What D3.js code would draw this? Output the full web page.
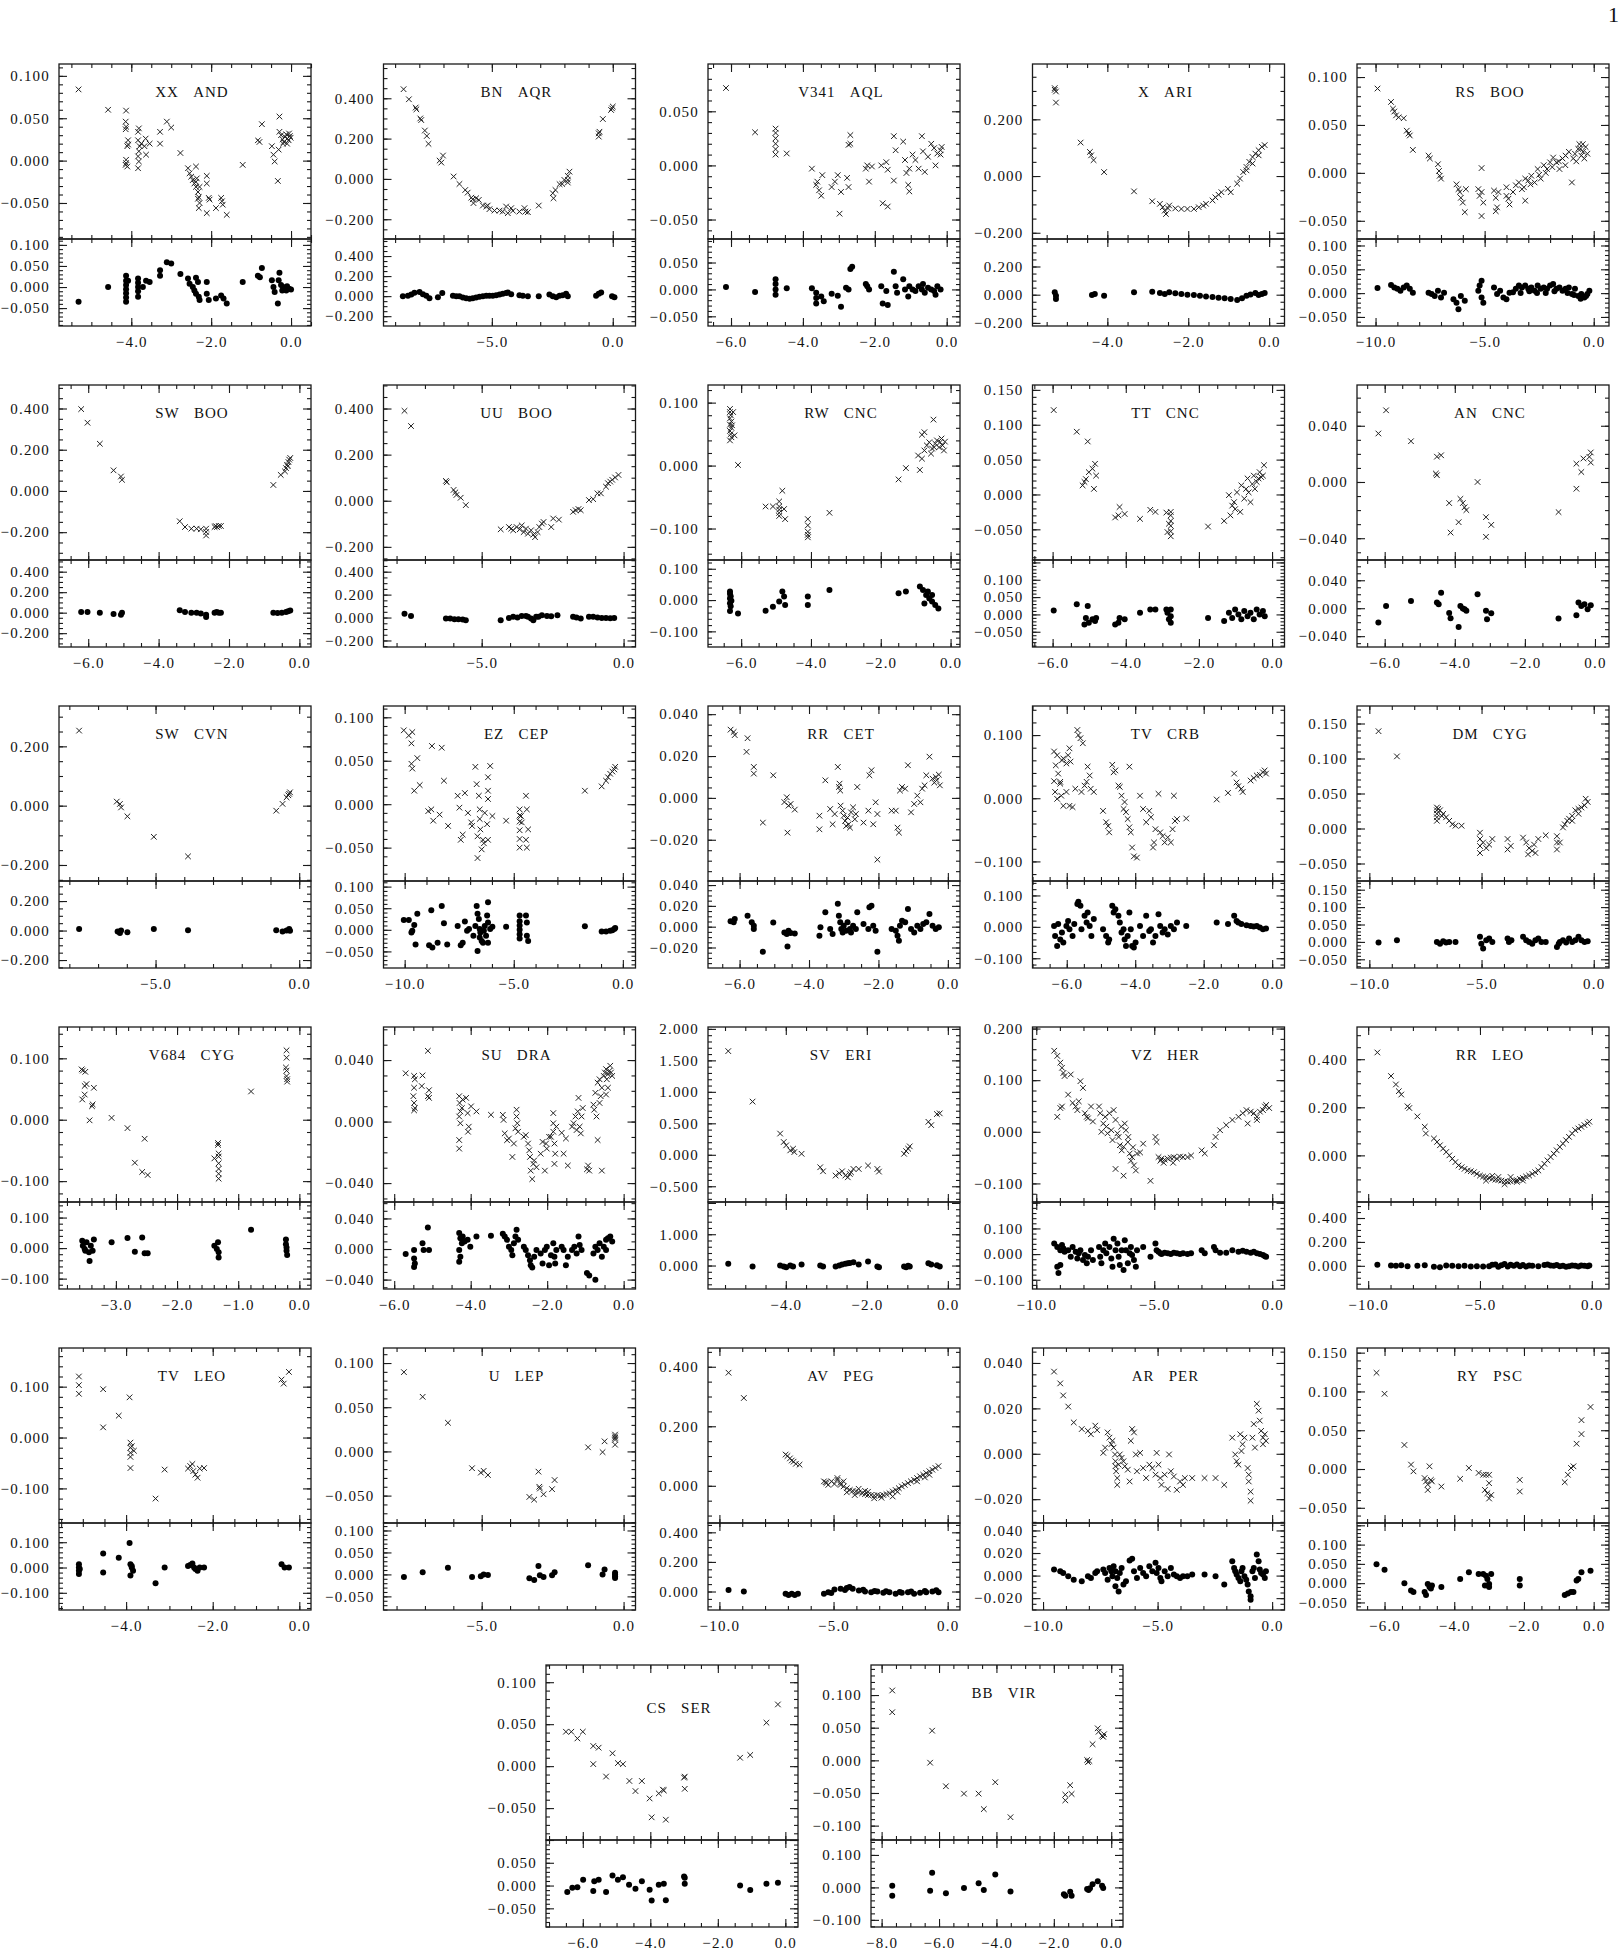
<!DOCTYPE html>
<html>
<head>
<meta charset="utf-8">
<script src="https://cdn.jsdelivr.net/npm/d3@7"></script>
<style>
  body { margin: 0; background: #fff; }
  text { font-family: "Liberation Serif", "Times New Roman", serif; }
</style>
</head>
<body>
<svg id="chart" width="1619" height="1950"></svg>
<script>
// ---- data: [phase-like x, magnitude y] per star; Fit = crosses (top), Res = residuals (bottom)
const xxAndFit = [[-5.32,0.084],[-4.58,0.060],[-4.13,0.059],[-4.14,0.046],[-4.13,0.040],[-4.14,0.037],[-4.08,0.024],[-4.08,0.019],[-4.10,0.017],[-4.13,0.001],[-4.13,-0.003],[-4.14,-0.005],[-4.10,-0.007],
  [-3.83,0.034],[-3.81,0.038],[-3.83,0.024],[-3.79,0.017],[-3.81,0.011],[-3.83,0.005],[-3.81,-0.001],[-3.83,-0.009],[-3.75,0.020],[-3.67,0.017],[-3.64,0.026],[-3.63,0.007],[-3.54,0.020],
  [-3.28,0.034],[-3.28,0.020],[-3.11,0.046],[-3.00,0.039],[-2.77,0.009],
  [-2.58,-0.009],[-2.54,-0.015],[-2.50,-0.019],[-2.46,-0.023],[-2.42,-0.027],[-2.38,-0.031],[-2.33,-0.037],[-2.31,-0.043],[-2.29,-0.050],[-2.31,-0.056],[-2.38,-0.007],[-2.36,-0.021],[-2.38,-0.025],[-2.29,-0.031],[-2.33,-0.045],
  [-2.11,-0.018],[-2.11,-0.027],[-2.11,-0.062],[-2.06,-0.044],[-2.04,-0.046],[-1.88,-0.056],[-1.75,-0.044],[-1.73,-0.048],[-1.71,-0.052],[-1.61,-0.064],[-1.21,-0.005],
  [-0.83,0.024],[-0.79,0.022],[-0.73,0.043],[-0.48,0.017],[-0.44,0.007],[-0.41,-0.001],[-0.33,-0.024],[-0.29,0.052],[-0.31,0.013],[-0.29,0.034],
  [-0.25,0.030],[-0.21,0.025],[-0.18,0.022],[-0.15,0.028],[-0.12,0.031],[-0.09,0.026],[-0.06,0.024],[-0.03,0.029],[-0.01,0.027],[-0.20,0.020],[-0.10,0.020],[-0.05,0.032]];
const xxAndRes = [[-5.32,-0.035],[-4.58,0.0],[-4.13,0.027],[-4.13,0.015],[-4.13,0.005],[-4.13,-0.005],[-4.13,-0.015],[-4.13,-0.025],[-4.13,-0.035],[-4.08,0.015],[-3.83,0.020],[-3.83,0.010],[-3.83,0.0],[-3.83,-0.010],[-3.83,-0.023],[-3.71,0.0],[-3.63,0.015],[-3.54,0.012],[-3.28,0.040],[-3.28,0.027],[-3.11,0.059],[-3.0,0.056],[-2.77,0.031],[-2.58,0.020],[-2.54,0.008],[-2.46,0.0],[-2.42,-0.008],[-2.38,-0.016],[-2.31,-0.023],[-2.29,-0.031],[-2.38,0.022],[-2.33,0.012],[-2.11,0.012],[-2.11,-0.016],[-2.06,-0.031],[-1.88,-0.027],[-1.75,-0.020],[-1.69,-0.027],[-1.61,-0.039],[-1.21,0.012],[-0.83,0.027],[-0.78,0.023],[-0.73,0.045],[-0.48,0.016],[-0.44,0.0],[-0.41,-0.012],[-0.33,-0.039],[-0.29,0.034],[-0.31,0.016],[-0.25,0.005],[-0.2,0.0],[-0.15,-0.005],[-0.1,0.002],[-0.05,-0.004],[0.0,-0.006],[-0.22,-0.008],[-0.12,-0.008]];

const bnAqrFit = [[-8.65,0.445],[-8.43,0.395],[-8.15,0.354],[-8.12,0.345],[-7.96,0.300],[-7.92,0.292],[-7.77,0.240],[-7.69,0.213],[-7.62,0.174],[-7.16,0.091],[-7.09,0.081],[-7.02,0.116],[-6.58,0.012],[-6.34,-0.025],[-6.10,-0.055],[-6.00,-0.068],[-5.85,-0.093],[-5.79,-0.101],[-5.76,-0.120],[-5.65,-0.096],[-5.54,-0.104],[-5.37,-0.132],[-5.23,-0.137],[-5.17,-0.132],[-5.10,-0.150],[-4.89,-0.157],[-4.68,-0.157],[-4.55,-0.162],[-4.41,-0.137],[-4.34,-0.170],[-4.20,-0.145],[-4.13,-0.158],[-3.86,-0.162],[-3.65,-0.145],[-3.61,-0.162],[-3.51,-0.165],[-3.06,-0.132],[-2.48,-0.071],[-2.45,-0.096],[-2.37,-0.055],[-2.20,-0.026],[-2.09,-0.025],[-2.00,-0.005],[-1.86,-0.005],[-1.86,0.015],[-1.79,0.036],[-1.86,-0.018],[-0.58,0.226],[-0.58,0.210],[-0.55,0.234],[-0.41,0.297],[-0.07,0.342],[0.0,0.359],[-0.03,0.350]];
const bnAqrRes = [[-8.68,0.0],[-8.47,0.003],[-8.33,0.017],[-8.20,0.033],[-7.99,0.040],[-7.85,0.020],[-7.71,0.003],[-7.58,-0.020],[-7.23,-0.010],[-7.05,0.030],[-6.61,0.003],[-6.47,0.0],[-6.34,0.0],[-6.2,-0.013],[-6.06,-0.02],[-5.92,-0.026],[-5.79,-0.02],[-5.65,-0.013],[-5.51,-0.007],[-5.37,0.0],[-5.23,0.003],[-5.10,0.003],[-4.96,0.003],[-4.82,0.01],[-4.68,0.017],[-4.55,0.023],[-4.41,0.03],[-4.34,0.036],[-4.2,0.02],[-3.86,0.01],[-3.72,0.003],[-3.51,0.0],[-3.06,0.0],[-2.62,0.017],[-2.48,0.0],[-2.34,-0.01],[-2.2,0.003],[-2.07,0.01],[-1.93,0.023],[-1.86,0.0],[-0.69,0.003],[-0.58,0.023],[-0.48,0.036],[-0.03,0.0],[0.07,-0.01]];

const v341AqlFit = [[-6.14,0.0715],[-5.33,0.0306],[-4.76,0.034],[-4.76,0.030],[-4.76,0.025],[-4.76,0.020],[-4.76,0.015],[-4.76,0.010],[-4.45,0.011],[-3.75,-0.003],[-3.63,-0.018],[-3.55,-0.023],[-3.49,-0.028],[-3.6,-0.015],[-3.46,-0.009],[-3.2,-0.020],[-3.11,-0.015],[-3.03,-0.009],[-2.94,-0.0245],[-2.98,-0.0446],[-2.77,-0.0115],[-2.73,-0.020],[-2.68,0.028],[-2.68,0.020],[-2.73,0.019],[-2.25,-0.003],[-2.16,-0.015],[-2.21,0.0],[-2.08,-0.001],[-1.82,0.0],[-1.78,-0.035],[-1.64,-0.038],[-1.68,0.003],[-1.64,-0.004],[-1.47,0.027],[-1.47,-0.014],[-1.42,0.014],[-1.21,0.022],[-1.16,0.005],[-1.12,-0.007],[-1.07,-0.018],[-1.04,-0.024],[-1.04,-0.003],[-0.95,0.010],[-0.87,0.005],[-0.78,-0.003],[-0.69,0.027],[-0.66,0.013],[-0.61,-0.006],[-0.52,0.008],[-0.43,0.020],[-0.35,0.016],[-0.31,0.0],[-0.26,0.011],[-0.17,0.014],[-0.17,0.010],[-0.14,0.017]];
const v341AqlRes = [[-6.14,0.0045],[-5.33,-0.005],[-4.76,0.019],[-4.76,0.010],[-4.76,0.0],[-4.76,-0.010],[-4.45,0.002],[-3.75,0.002],[-3.63,-0.006],[-3.63,-0.016],[-3.63,-0.026],[-3.49,-0.013],[-3.42,-0.022],[-3.2,-0.008],[-3.03,-0.012],[-2.94,-0.032],[-2.80,0.003],[-2.73,0.0],[-2.68,0.038],[-2.63,0.042],[-2.25,0.010],[-2.16,0.0],[-2.21,0.006],[-1.82,0.006],[-1.78,-0.026],[-1.64,-0.029],[-1.68,-0.003],[-1.47,0.033],[-1.42,0.006],[-1.38,-0.006],[-1.21,0.019],[-1.16,0.0],[-1.07,-0.013],[-1.04,0.006],[-0.95,0.0],[-0.87,-0.003],[-0.78,0.006],[-0.69,0.0],[-0.66,0.010],[-0.61,-0.006],[-0.52,0.003],[-0.43,0.0],[-0.35,-0.003],[-0.31,-0.010],[-0.26,0.006],[-0.17,0.0]];

const xAriFit = [[-5.30,0.304],[-5.27,0.298],[-5.30,0.310],[-5.27,0.259],[-4.66,0.118],[-4.43,0.085],[-4.40,0.073],[-4.34,0.056],[-4.08,0.014],[-3.34,-0.054],[-2.89,-0.089],[-2.70,-0.098],[-2.63,-0.110],[-2.58,-0.122],[-2.55,-0.134],[-2.50,-0.114],[-2.47,-0.104],[-2.32,-0.114],[-2.17,-0.116],[-2.02,-0.116],[-1.86,-0.116],[-1.74,-0.110],[-1.63,-0.104],[-1.56,-0.098],[-1.40,-0.086],[-1.33,-0.075],[-1.25,-0.066],[-1.18,-0.057],[-1.02,-0.045],[-0.95,-0.057],[-0.79,-0.027],[-0.72,-0.009],[-0.64,0.014],[-0.56,0.032],[-0.49,0.050],[-0.41,0.067],[-0.34,0.079],[-0.26,0.091],[-0.18,0.103],[-0.11,0.109],[-0.26,0.073],[-0.41,0.044],[-0.56,0.020]];
const xAriRes = [[-5.30,0.017],[-5.27,-0.007],[-5.27,-0.031],[-4.38,-0.002],[-4.31,0.005],[-4.08,-0.007],[-3.34,0.017],[-2.89,0.021],[-2.70,0.012],[-2.58,0.005],[-2.47,0.017],[-2.32,0.010],[-2.17,0.005],[-2.02,0.0],[-1.86,-0.002],[-1.71,-0.007],[-1.56,-0.012],[-1.40,-0.017],[-1.25,-0.021],[-1.10,-0.026],[-0.95,-0.031],[-0.79,-0.038],[-0.67,-0.026],[-0.56,-0.007],[-0.46,0.002],[-0.34,0.012],[-0.26,-0.002],[-0.18,0.005],[-0.11,0.012]];

const rsBooFit = [[-9.91,0.088],[-9.29,0.074],[-9.2,0.067],[-9.14,0.064],[-9.06,0.060],[-8.94,0.058],[-8.71,0.057],[-8.57,0.044],[-8.49,0.041],[-8.43,0.039],[-8.29,0.024],[-7.57,0.018],[-7.51,0.015],[-7.14,0.009],[-7.09,0.002],[-7.06,-0.003],[-7.0,-0.006],[-6.29,-0.012],[-6.2,-0.017],[-6.14,-0.020],[-6.09,-0.026],[-6.0,-0.031],[-5.91,-0.041],[-5.86,-0.017],[-5.29,-0.017],[-5.23,-0.024],[-5.14,0.005],[-5.14,-0.045],[-5.06,-0.031],[-5.14,-0.020],[-4.57,-0.0185],[-4.49,-0.026],[-4.43,-0.036],[-4.49,-0.040],[-4.37,-0.020],[-4.0,-0.015],[-3.91,-0.027],[-3.86,-0.033],[-4.0,-0.024],[-3.57,-0.013],[-3.43,-0.010],[-3.29,-0.017],[-3.14,-0.006],[-3.14,-0.029],[-3.0,-0.008],[-2.86,-0.003],[-2.71,-0.010],[-2.57,0.004],[-2.43,-0.006],[-2.29,0.008],[-2.14,0.004],[-2.0,0.011],[-1.86,0.016],[-1.71,0.011],[-1.57,0.004],[-1.43,0.015],[-1.29,0.018],[-1.14,0.022],[-1.0,-0.010],[-0.94,0.015],[-0.86,0.020],[-0.71,0.025],[-0.66,0.030],[-0.57,0.018],[-0.49,0.022],[-0.43,0.015],[-0.37,0.027],[-0.29,0.020],
  [-3.7,-0.02],[-3.2,-0.015],[-2.9,-0.012],[-2.5,-0.002],[-2.2,0.0],[-1.9,0.006],[-1.6,0.012],[-1.3,0.008],[-0.8,0.012],[-0.6,0.025],[-0.5,0.03]];
const rsBooRes = [[-9.91,0.011],[-9.29,0.017],[-9.14,0.012],[-9.0,0.009],[-8.86,0.005],[-8.71,0.012],[-8.57,0.016],[-8.43,0.009],[-8.29,0.001],[-7.57,0.001],[-7.43,-0.002],[-7.29,-0.006],[-7.14,0.005],[-7.0,-0.009],[-6.86,0.001],[-6.43,-0.013],[-6.29,-0.020],[-6.2,-0.034],[-6.09,-0.006],[-5.91,-0.016],[-5.29,0.005],[-5.23,0.016],[-5.14,0.026],[-5.14,-0.009],[-5.06,-0.020],[-4.57,0.012],[-4.43,-0.002],[-4.29,0.005],[-4.14,-0.009],[-4.0,-0.013],[-3.86,0.001],[-3.57,0.009],[-3.43,0.016],[-3.29,0.012],[-3.14,0.016],[-3.0,0.009],[-2.86,0.012],[-2.71,0.005],[-2.57,0.016],[-2.43,0.009],[-2.29,0.012],[-2.14,0.009],[-2.0,0.016],[-1.86,0.019],[-1.71,0.009],[-1.57,0.012],[-1.43,0.005],[-1.29,0.009],[-1.14,0.012],[-1.0,-0.002],[-0.86,0.009],[-0.71,-0.006],[-0.57,-0.002],[-0.43,-0.009],[-0.29,-0.002],[-0.2,0.005],
  [-3.7,0.002],[-3.35,0.0],[-2.95,0.004],[-2.6,0.0],[-2.2,0.0],[-1.8,0.004],[-1.2,0.0],[-0.9,-0.004],[-0.6,-0.012],[-0.35,-0.006]];

const swBooFit = [[-6.20,0.397],[-6.02,0.331],[-5.67,0.229],[-5.28,0.100],[-5.07,0.070],[-5.04,0.054],[-3.40,-0.147],[-3.25,-0.175],[-3.07,-0.183],[-2.92,-0.183],[-2.80,-0.186],[-2.65,-0.183],[-2.65,-0.199],[-2.65,-0.216],[-2.41,-0.175],[-2.38,-0.170],[-2.34,-0.175],[-2.29,-0.170],[-2.23,-0.170],[-0.74,0.029],[-0.53,0.078],[-0.38,0.111],[-0.35,0.127],[-0.31,0.140],[-0.29,0.152],[-0.26,0.160],[-0.33,0.12],[-0.41,0.095]];
const swBooRes = [[-6.2,0.007],[-6.02,0.007],[-5.67,0.0],[-5.28,-0.013],[-5.04,0.0],[-5.07,-0.020],[-3.40,0.023],[-3.25,0.007],[-3.07,0.0],[-2.92,0.0],[-2.80,-0.007],[-2.65,-0.020],[-2.65,-0.043],[-2.41,0.0],[-2.35,0.007],[-2.29,0.0],[-2.23,0.0],[-0.74,0.0],[-0.62,-0.003],[-0.5,0.0],[-0.38,0.007],[-0.32,0.013],[-0.26,0.020]];

const uuBooFit = [[-7.72,0.390],[-7.49,0.324],[-6.26,0.086],[-6.23,0.080],[-5.99,0.047],[-5.93,0.036],[-5.89,0.025],[-5.74,0.013],[-5.56,-0.019],[-4.33,-0.124],[-4.04,-0.114],[-3.96,-0.121],[-3.89,-0.128],[-3.77,-0.114],[-3.66,-0.124],[-3.59,-0.107],[-3.52,-0.136],[-3.44,-0.121],[-3.37,-0.143],[-3.26,-0.128],[-3.18,-0.147],[-3.12,-0.158],[-3.03,-0.136],[-2.97,-0.114],[-2.88,-0.099],[-2.82,-0.092],[-2.55,-0.114],[-2.48,-0.077],[-2.28,-0.082],[-1.78,-0.048],[-1.69,-0.041],[-1.59,-0.036],[-1.51,-0.041],[-1.22,0.003],[-1.07,0.007],[-0.92,0.032],[-0.80,0.032],[-0.62,0.061],[-0.55,0.076],[-0.47,0.083],[-0.40,0.091],[-0.30,0.101],[-0.18,0.112]];
const uuBooRes = [[-7.72,0.032],[-7.49,0.014],[-6.26,-0.009],[-6.11,-0.009],[-5.96,-0.014],[-5.82,-0.014],[-5.67,-0.017],[-5.56,-0.023],[-4.33,-0.023],[-4.04,-0.003],[-3.89,0.006],[-3.74,0.0],[-3.59,0.014],[-3.44,0.014],[-3.37,0.006],[-3.26,-0.009],[-3.18,-0.023],[-3.08,0.006],[-3.0,0.006],[-2.88,0.020],[-2.70,0.014],[-2.55,0.011],[-2.33,0.020],[-1.78,0.006],[-1.66,0.0],[-1.51,-0.009],[-1.22,0.006],[-1.07,0.006],[-0.92,0.0],[-0.77,-0.003],[-0.62,-0.003],[-0.47,-0.006],[-0.33,-0.003]];

const rwCncFit = [[-6.32,0.090],[-6.32,0.085],[-6.30,0.080],[-6.32,0.075],[-6.28,0.070],[-6.32,0.065],[-6.28,0.060],[-6.32,0.055],[-6.30,0.050],[-6.28,0.045],[-6.32,0.040],[-6.23,0.085],[-6.26,0.064],[-6.19,0.048],[-6.09,0.001],
  [-5.30,-0.065],[-5.09,-0.065],[-4.91,-0.057],[-4.91,-0.065],[-4.91,-0.070],[-4.91,-0.075],[-4.91,-0.080],[-4.82,-0.040],[-4.77,-0.069],[-4.74,-0.085],
  [-4.09,-0.085],[-4.09,-0.095],[-4.09,-0.105],[-4.09,-0.110],[-4.09,-0.114],
  [-3.47,-0.075],[-1.49,-0.022],[-1.28,-0.004],[-0.88,-0.007],[-0.82,0.049],[-0.75,0.053],[-0.49,0.073],
  [-0.93,0.016],[-0.82,0.011],[-0.75,0.024],[-0.68,0.032],[-0.61,0.037],[-0.56,0.019],[-0.53,0.027],[-0.47,0.029],[-0.44,0.035],[-0.39,0.040],[-0.33,0.029],[-0.30,0.037],[-0.26,0.043],[-0.23,0.032],[-0.19,0.024],[-0.16,0.038]];
const rwCncRes = [[-6.32,0.027],[-6.32,0.020],[-6.30,0.012],[-6.32,0.005],[-6.28,-0.002],[-6.32,-0.010],[-6.30,-0.020],[-6.32,-0.035],[-6.09,-0.043],[-5.30,-0.034],[-5.09,-0.021],[-4.91,-0.005],[-4.82,0.027],[-4.77,0.011],[-4.74,-0.016],[-4.09,0.011],[-4.09,-0.016],[-3.47,0.032],[-1.49,0.022],[-1.28,0.027],[-0.88,0.043],[-0.79,0.032],[-0.70,0.016],[-0.61,0.005],[-0.53,-0.005],[-0.44,-0.016],[-0.35,-0.027],[-0.53,0.016],[-0.75,-0.011],[-0.65,0.027]];

const ttCncFit = [[-5.97,0.121],[-5.34,0.090],[-5.04,0.076],[-5.13,0.018],[-5.09,0.022],[-5.01,0.032],[-5.18,0.013],[-4.91,0.037],[-4.84,0.044],[-4.87,0.008],[-4.81,0.027],[-4.29,-0.033],[-4.20,-0.030],[-4.17,-0.018],[-4.03,-0.028],[-3.61,-0.035],[-3.33,-0.022],[-3.19,-0.025],[-2.89,-0.026],[-2.86,-0.054],[-2.77,-0.025],[-2.77,-0.030],[-2.77,-0.038],[-2.77,-0.045],[-2.77,-0.053],[-2.77,-0.060],[-2.82,-0.042],[-1.75,-0.046],[-1.31,-0.038],[-1.18,-0.001],[-1.14,-0.030],[-1.09,-0.016],[-1.04,-0.011],[-1.01,-0.021],[-0.96,0.003],[-0.87,-0.025],[-0.84,0.013],[-0.76,-0.006],[-0.71,0.008],[-0.67,0.023],[-0.64,0.003],[-0.59,-0.011],[-0.54,0.015],[-0.50,0.027],[-0.47,0.008],[-0.42,0.018],[-0.37,0.023],[-0.34,0.032],[-0.30,0.025],[-0.25,0.027],[-0.22,0.042]];
const ttCncRes = [[-5.97,0.011],[-5.34,0.029],[-5.04,0.024],[-5.13,-0.029],[-5.09,-0.010],[-5.01,-0.024],[-4.91,-0.014],[-4.84,-0.019],[-4.81,-0.010],[-4.29,-0.029],[-4.20,-0.024],[-4.17,-0.010],[-4.03,-0.014],[-3.61,0.005],[-3.33,0.014],[-3.19,0.014],[-2.89,0.014],[-2.86,0.005],[-2.77,0.014],[-2.77,-0.005],[-2.77,-0.024],[-2.82,-0.014],[-1.75,-0.010],[-1.31,-0.019],[-1.18,0.005],[-1.09,-0.010],[-1.01,0.014],[-0.92,0.0],[-0.84,-0.014],[-0.76,0.010],[-0.67,-0.005],[-0.59,0.005],[-0.50,-0.014],[-0.42,0.014],[-0.34,0.0],[-0.25,0.010],[-0.20,-0.005]];

const anCncFit = [[-6.18,0.0345],[-5.96,0.051],[-5.25,0.029],[-4.51,0.018],[-4.39,0.019],[-4.51,0.0048],[-4.54,0.006],[-4.16,-0.015],[-3.89,-0.0286],[-4.12,-0.036],[-3.84,-0.012],[-3.72,-0.018],[-3.67,-0.020],[-3.77,-0.015],[-3.35,0.0],[-3.11,-0.025],[-2.96,-0.0305],[-3.11,-0.039],[-1.04,-0.0214],[-0.53,-0.0048],[-0.53,0.013],[-0.39,0.0071],[-0.33,0.0167],[-0.12,0.021],[-0.12,0.0138],[-0.16,0.0179]];
const anCncRes = [[-6.18,-0.0205],[-5.96,0.0033],[-5.25,0.0105],[-4.51,0.0081],[-4.39,0.022],[-4.46,0.0057],[-4.16,-0.007],[-3.89,-0.027],[-4.12,-0.0143],[-3.84,0.0033],[-3.72,-0.0014],[-3.67,-0.0038],[-3.77,-0.0005],[-3.35,0.020],[-3.11,-0.0038],[-3.08,-0.0157],[-2.96,-0.0071],[-1.04,-0.0148],[-0.53,-0.010],[-0.47,0.0081],[-0.39,0.0033],[-0.30,0.0057],[-0.21,-0.0014],[-0.12,0.0043]];

const swCvnFit = [[-7.66,0.253],[-6.35,0.0137],[-6.24,0.0057],[-6.20,-0.006],[-5.98,-0.036],[-5.06,-0.105],[-3.87,-0.171],[-0.80,-0.017],[-0.58,0.006],[-0.44,0.028],[-0.35,0.040],[-0.32,0.045],[-0.38,0.035]];
const swCvnRes = [[-7.66,0.011],[-6.32,-0.007],[-6.24,-0.016],[-6.20,0.0],[-5.98,-0.011],[-5.06,0.011],[-3.87,0.002],[-0.80,0.002],[-0.58,-0.007],[-0.44,0.0],[-0.35,0.011],[-0.32,-0.002]];

const ezCepFit = [[-10.04,0.085],[-9.81,0.079],[-9.65,0.083],[-9.69,0.070],[-9.69,0.0465],[-9.65,0.041],[-9.42,0.053],[-9.56,0.0155],[-9.31,0.022],[-8.92,-0.008],[-8.78,-0.006],[-8.69,-0.019],[-8.40,-0.012],[-8.75,0.067],[-8.30,0.065],[-8.20,0.027],[-8.01,-0.025],[-7.57,0.0097],[-7.43,-0.041],[-7.24,0.0128],[-7.34,-0.035],[-7.49,-0.004],[-7.10,-0.010],[-6.95,-0.021],[-6.91,-0.025],[-6.76,0.043],[-6.70,0.023],[-6.66,-0.062],[-6.66,-0.037],[-6.60,0.0097],[-6.56,-0.017],[-6.56,-0.006],[-6.53,-0.029],[-6.47,-0.052],[-6.41,-0.041],[-6.37,-0.045],[-6.33,-0.010],[-6.18,0.031],[-6.18,0.0155],[-6.18,0.006],[-6.22,-0.023],[-6.18,-0.041],[-6.08,0.044],[-5.98,-0.0136],[-5.35,-0.019],[-4.73,-0.006],[-4.73,-0.013],[-4.73,-0.020],[-4.73,-0.030],[-4.73,-0.040],[-4.73,-0.050],[-4.67,-0.0136],[-4.63,-0.021],[-4.44,0.0097],[-4.40,-0.006],[-4.34,-0.029],[-4.40,-0.050],[-4.44,-0.041],[-1.74,0.0155],[-0.97,0.0205],[-0.77,0.027],[-0.68,0.031],[-0.58,0.035],[-0.48,0.0376],[-0.39,0.040],[-0.35,0.043]];
const ezCepRes = [[-10.04,0.023],[-9.81,0.023],[-9.69,-0.006],[-9.65,-0.002],[-9.56,0.011],[-9.50,-0.034],[-9.42,0.037],[-8.88,-0.036],[-8.78,0.045],[-8.73,-0.041],[-8.49,-0.030],[-8.20,0.015],[-8.30,0.055],[-8.05,-0.034],[-7.57,0.009],[-7.43,-0.036],[-7.34,-0.030],[-7.24,0.019],[-7.14,-0.002],[-7.05,0.002],[-6.85,-0.014],[-6.76,0.009],[-6.70,0.055],[-6.66,-0.049],[-6.66,0.037],[-6.60,0.025],[-6.56,0.002],[-6.56,-0.018],[-6.53,-0.006],[-6.47,-0.026],[-6.41,-0.030],[-6.37,-0.002],[-6.33,0.009],[-6.27,-0.014],[-6.22,0.033],[-6.18,0.064],[-6.18,0.017],[-6.18,-0.030],[-6.08,0.002],[-5.98,0.007],[-5.35,0.007],[-4.73,0.033],[-4.73,0.020],[-4.73,0.010],[-4.73,0.0],[-4.73,-0.010],[-4.73,-0.020],[-4.44,0.033],[-4.40,0.017],[-4.34,-0.026],[-4.40,-0.014],[-1.74,0.008],[-0.97,-0.004],[-0.77,-0.004],[-0.58,-0.002],[-0.48,-0.001],[-0.39,0.002],[-0.35,0.004]];

const rrCetFit = [[-6.26,0.0326],[-6.17,0.0315],[-6.14,0.030],[-5.77,0.0285],[-5.80,0.022],[-5.59,0.0148],[-5.59,0.0116],[-5.33,-0.0118],[-5.03,0.0108],[-4.71,-0.002],[-4.64,0.0003],[-4.59,-0.0037],[-4.53,-0.0029],[-4.62,-0.0166],[-4.41,-0.0056],[-3.70,-0.0085],[-3.70,-0.015],[-3.53,0.0084],[-3.39,-0.0053],[-3.32,-0.0126],[-3.26,-0.0077],[-3.17,0.0148],[-3.14,0.0052],[-3.10,0.0035],[-3.12,0.0068],[-3.09,-0.0037],[-3.03,-0.0061],[-3.0,-0.0085],[-2.96,-0.011],[-2.93,-0.0134],[-2.89,-0.0094],[-2.86,-0.0126],[-2.82,-0.0142],[-2.79,-0.0069],[-2.73,-0.0045],[-2.68,-0.0102],[-2.65,-0.0077],[-2.61,0.0052],[-2.43,-0.0118],[-2.29,-0.0061],[-2.26,0.0108],[-2.20,0.0132],[-2.15,-0.0126],[-2.08,-0.0021],[-2.03,-0.0077],[-2.03,-0.0295],[-1.62,-0.0061],[-1.50,-0.0061],[-1.45,-0.0142],[-1.41,-0.0166],[-1.38,0.0035],[-1.32,0.0052],[-1.23,0.0044],[-1.15,0.0156],[-1.06,-0.0069],[-0.97,-0.0029],[-0.88,0.0011],[-0.79,-0.0021],[-0.74,0.0044],[-0.67,0.006],[-0.62,0.0108],[-0.53,0.0197],[-0.44,0.0092],[-0.39,0.0073],[-0.35,0.010],[-0.32,0.0084],[-0.26,0.0111],[-0.23,0.006]];
const rrCetRes = [[-6.26,0.0052],[-6.17,0.0042],[-6.14,0.0074],[-5.77,0.0106],[-5.65,0.0042],[-5.59,0.001],[-5.59,-0.0023],[-5.33,-0.024],[-5.03,0.004],[-4.71,-0.0055],[-4.64,-0.0071],[-4.59,-0.0039],[-4.53,-0.0061],[-4.62,-0.019],[-4.41,-0.0065],[-3.70,-0.0087],[-3.67,-0.0006],[-3.53,0.0139],[-3.39,-0.0023],[-3.32,-0.0071],[-3.17,0.022],[-3.14,0.0106],[-3.10,0.0042],[-3.07,-0.0023],[-3.03,-0.0055],[-3.0,0.001],[-2.93,-0.0039],[-2.89,0.0042],[-2.82,-0.0023],[-2.79,-0.0055],[-2.73,0.001],[-2.65,-0.0023],[-2.61,0.0139],[-2.43,0.0026],[-2.29,-0.0023],[-2.26,0.0187],[-2.20,0.020],[-2.15,0.001],[-2.08,-0.0039],[-2.03,-0.024],[-1.62,-0.0023],[-1.50,-0.0039],[-1.45,-0.0087],[-1.41,-0.0135],[-1.38,0.001],[-1.32,0.0058],[-1.23,0.0042],[-1.15,0.0171],[-1.06,-0.0023],[-0.97,-0.0055],[-0.88,0.001],[-0.79,-0.0023],[-0.71,0.0026],[-0.62,0.0042],[-0.53,0.0123],[-0.44,0.001],[-0.35,-0.0023],[-0.26,-0.0006]];

const tvCrbFit = [[-6.37,0.074],[-6.32,0.052],[-6.28,0.068],[-6.25,0.039],[-6.19,0.026],[-6.14,0.060],[-6.10,0.063],[-6.01,0.055],[-5.96,0.068],[-5.92,0.079],[-5.89,0.058],[-6.37,0.027],[-6.34,0.010],[-6.28,-0.001],[-6.19,0.023],[-6.16,0.004],[-6.10,-0.012],[-6.01,0.010],[-5.92,-0.012],[-5.83,-0.014],[-5.75,0.015],[-5.69,0.108],[-5.66,0.100],[-5.60,0.095],[-5.53,0.087],[-5.57,0.010],[-5.48,0.020],[-5.42,0.026],[-5.39,0.050],[-5.33,0.036],[-5.30,0.015],[-5.21,0.010],[-4.94,-0.020],[-4.85,-0.038],[-4.79,-0.044],[-4.76,-0.054],[-4.67,0.053],[-4.63,0.041],[-4.58,0.044],[-4.49,0.020],[-4.45,0.018],[-4.40,0.004],[-4.34,-0.017],[-4.31,-0.006],[-4.27,-0.022],[-4.22,-0.033],[-4.17,-0.046],[-4.13,-0.054],[-4.09,-0.078],[-4.04,-0.092],[-3.95,-0.094],[-4.17,0.050],[-3.86,0.004],[-3.77,-0.017],[-3.68,-0.038],[-3.59,-0.020],[-3.54,-0.030],[-3.48,-0.078],[-3.45,-0.070],[-3.41,-0.049],[-3.32,0.007],[-3.27,-0.054],[-3.20,-0.060],[-3.14,-0.070],[-3.05,-0.062],[-2.96,-0.070],[-2.91,-0.049],[-2.84,-0.036],[-2.78,-0.033],[-2.87,0.004],[-2.51,-0.032],[-1.62,-0.002],[-1.29,0.0085],[-1.11,0.039],[-1.04,0.025],[-0.99,0.019],[-0.90,0.015],[-0.86,0.010],[-0.63,0.028],[-0.54,0.032],[-0.45,0.036],[-0.36,0.037],[-0.27,0.041],[-0.22,0.044],[-0.18,0.039]];
const tvCrbRes = [[-6.37,0.003],[-6.34,-0.029],[-6.28,-0.061],[-6.25,0.009],[-6.19,-0.040],[-6.14,-0.018],[-6.10,-0.050],[-6.01,0.003],[-5.96,0.019],[-5.92,-0.008],[-5.83,-0.029],[-5.78,0.009],[-5.69,0.073],[-5.66,0.080],[-5.60,0.067],[-5.57,-0.008],[-5.48,0.035],[-5.42,0.014],[-5.39,0.046],[-5.33,0.003],[-5.28,-0.029],[-5.21,0.025],[-4.94,-0.008],[-4.85,-0.029],[-4.79,-0.050],[-4.76,-0.040],[-4.67,0.067],[-4.63,0.046],[-4.58,0.056],[-4.49,0.035],[-4.45,0.014],[-4.40,-0.018],[-4.34,-0.008],[-4.31,-0.040],[-4.27,-0.061],[-4.22,-0.029],[-4.17,0.046],[-4.13,-0.008],[-4.09,-0.061],[-4.04,-0.066],[-3.99,-0.050],[-3.86,0.003],[-3.77,-0.029],[-3.68,0.035],[-3.59,-0.013],[-3.54,-0.008],[-3.48,-0.050],[-3.41,-0.029],[-3.32,0.040],[-3.27,0.003],[-3.20,-0.018],[-3.14,-0.008],[-3.05,-0.024],[-2.96,0.003],[-2.87,-0.008],[-2.78,0.014],[-2.51,0.003],[-1.62,0.014],[-1.29,0.009],[-1.11,0.035],[-1.04,0.019],[-0.99,0.014],[-0.90,0.009],[-0.75,0.005],[-0.63,0.003],[-0.54,0.001],[-0.45,0.003],[-0.36,-0.002],[-0.27,-0.008],[-0.18,-0.005]];

const dmCygFit = [[-9.59,0.139],[-8.77,0.103],[-6.99,0.030],[-6.99,0.026],[-6.99,0.021],[-6.99,0.016],[-6.99,0.011],[-6.85,0.026],[-6.71,0.021],[-6.58,0.016],[-6.44,0.011],[-6.30,0.006],[-6.16,0.004],[-5.89,0.004],[-6.93,0.028],[-6.77,0.018],[-5.07,-0.006],[-5.07,-0.015],[-5.07,-0.025],[-5.07,-0.035],[-4.93,-0.020],[-4.79,-0.028],[-4.66,-0.023],[-4.52,-0.015],[-3.84,-0.015],[-3.84,-0.030],[-3.70,-0.025],[-3.15,-0.013],[-3.01,-0.020],[-2.88,-0.028],[-2.74,-0.032],[-2.60,-0.035],[-2.93,-0.037],[-2.47,-0.015],[-2.66,-0.023],[-2.14,-0.0097],[-1.64,-0.011],[-1.64,-0.020],[-1.64,-0.030],[-1.51,-0.020],[-1.37,0.0015],[-1.29,0.006],[-1.18,0.011],[-1.10,0.014],[-0.96,0.018],[-0.82,0.026],[-0.68,0.028],[-0.55,0.030],[-0.41,0.033],[-0.27,0.038],[-0.36,0.0425],[-0.96,0.011],[-0.68,0.021]];
const dmCygRes = [[-9.59,-0.002],[-8.77,0.005],[-6.99,0.0],[-6.85,-0.005],[-6.71,0.002],[-6.58,-0.002],[-6.44,0.0],[-6.16,0.0],[-5.07,0.015],[-5.01,-0.005],[-4.93,-0.019],[-4.79,0.005],[-4.66,0.010],[-4.52,0.0],[-3.84,0.010],[-3.78,0.0],[-3.67,0.005],[-3.15,0.015],[-3.01,0.005],[-2.88,0.0],[-2.74,-0.005],[-2.60,0.005],[-2.47,0.010],[-2.33,0.0],[-2.14,0.0],[-1.64,-0.015],[-1.56,-0.005],[-1.51,0.0],[-1.37,0.005],[-1.23,-0.002],[-1.10,0.010],[-0.96,0.0],[-0.82,0.005],[-0.68,0.015],[-0.55,0.005],[-0.41,0.0],[-0.27,0.002]];

const v684CygFit = [[-3.56,0.082],[-3.54,0.080],[-3.50,0.078],[-3.55,0.033],[-3.51,0.041],[-3.48,0.058],[-3.51,0.055],[-3.43,-0.001],[-3.38,0.025],[-3.36,0.052],[-3.39,0.022],[-3.07,0.003],[-2.81,-0.0137],[-2.69,-0.070],[-2.57,-0.085],[-2.53,-0.031],[-2.48,-0.090],[-1.39,-0.063],[-1.33,-0.038],[-1.33,-0.041],[-1.32,-0.055],[-1.32,-0.060],[-1.32,-0.071],[-1.32,-0.080],[-1.32,-0.088],[-1.32,-0.096],[-0.79,0.046],[-0.21,0.113],[-0.21,0.101],[-0.22,0.085],[-0.21,0.080],[-0.21,0.071],[-0.20,0.066],[-0.20,0.062]];
const v684CygRes = [[-3.55,0.024],[-3.54,0.008],[-3.51,-0.003],[-3.50,-0.009],[-3.48,0.019],[-3.44,-0.014],[-3.43,-0.042],[-3.38,-0.009],[-3.36,0.028],[-3.41,0.008],[-3.07,0.019],[-2.81,0.033],[-2.69,-0.012],[-2.57,0.035],[-2.53,-0.017],[-2.48,-0.017],[-1.39,0.008],[-1.35,-0.003],[-1.33,0.019],[-1.32,-0.014],[-1.32,-0.031],[-0.79,0.060],[-0.22,0.028],[-0.22,0.013],[-0.21,0.002],[-0.21,-0.009],[-0.20,-0.023]];

const suDraFit = [[-5.70,0.0314],[-5.48,0.0297],[-5.46,0.0275],[-5.48,0.022],[-5.50,0.0165],[-5.48,0.0121],[-5.46,0.0088],[-5.48,0.0073],[-5.26,0.030],[-5.28,0.0231],[-5.12,0.046],[-5.09,0.0204],[-5.09,0.0154],[-5.12,0.0165],[-4.30,0.0165],[-4.29,0.0121],[-4.27,0.0066],[-4.30,0.0033],[-4.27,-0.0011],[-4.30,-0.012],[-4.30,-0.0176],[-4.23,0.0088],[-4.21,0.0143],[-4.12,0.0154],[-4.08,0.0055],[-4.05,-0.0033],[-4.07,-0.0066],[-3.99,0.0099],[-3.85,0.0066],[-3.47,0.0044],[-3.16,0.0044],[-3.14,0.0011],[-3.11,-0.0077],[-3.05,-0.0121],[-3.0,-0.011],[-2.91,-0.023],[-2.87,-0.0143],[-2.83,-0.0044],[-2.80,0.0077],[-2.80,0.0033],[-2.78,-0.0011],[-2.76,-0.0066],[-2.61,-0.0099],[-2.56,-0.0088],[-2.50,-0.0143],[-2.47,-0.0187],[-2.45,-0.023],[-2.43,-0.0319],[-2.39,-0.0374],[-2.36,-0.0275],[-2.34,-0.0253],[-2.28,-0.0297],[-2.17,-0.0209],[-2.12,-0.0132],[-2.06,-0.0319],[-2.03,-0.0143],[-2.01,-0.0176],[-1.95,-0.0099],[-1.90,-0.0099],[-1.84,0.0055],[-1.84,-0.0011],[-1.84,-0.0066],[-1.81,-0.0143],[-1.79,-0.0209],[-1.81,-0.0275],[-1.76,-0.0033],[-1.62,-0.0073],[-1.57,-0.0209],[-1.51,-0.011],[-1.46,-0.0286],[-1.35,-0.0033],[-1.31,-0.0011],[-1.26,0.0033],[-1.23,-0.0055],[-1.20,0.0066],[-1.18,0.0154],[-1.15,-0.0033],[-1.12,-0.0077],[-1.10,0.0033],[-1.07,0.0088],[-0.96,-0.031],[-0.93,-0.0286],[-0.90,-0.0319],[-0.79,0.011],[-0.77,0.0077],[-0.74,0.0187],[-0.71,0.0033],[-0.68,-0.012],[-0.68,0.0253],[-0.63,0.0275],[-0.63,0.0121],[-0.60,0.0165],[-0.57,0.022],[-0.57,-0.0319],[-0.52,0.0297],[-0.49,0.0319],[-0.46,0.0341],[-0.44,0.0275],[-0.41,0.0308],[-0.37,0.033],[-0.35,0.0363],[-0.33,0.0319],[-0.30,0.0297],[-0.46,0.0176],[-0.41,0.022]];
const suDraRes = [[-5.70,-0.0066],[-5.48,-0.0013],[-5.48,-0.0124],[-5.46,-0.019],[-5.48,-0.0235],[-5.26,0.0075],[-5.23,-0.0013],[-5.12,0.0283],[-5.09,-0.0013],[-4.30,0.0208],[-4.27,0.0142],[-4.23,0.0075],[-4.30,-0.0013],[-4.27,-0.0102],[-4.30,-0.0168],[-4.21,0.0164],[-4.16,0.0097],[-4.08,0.012],[-4.01,0.0031],[-3.85,0.0164],[-3.47,0.0173],[-3.16,0.02],[-3.11,0.0164],[-3.05,0.012],[-3.0,0.0031],[-2.94,-0.0013],[-2.91,-0.008],[-2.87,0.0075],[-2.83,0.0164],[-2.80,0.0252],[-2.76,0.012],[-2.61,0.0031],[-2.56,-0.0013],[-2.50,-0.008],[-2.45,-0.0146],[-2.43,-0.0212],[-2.39,-0.0243],[-2.34,-0.0102],[-2.28,-0.0013],[-2.17,-0.0058],[-2.12,-0.019],[-2.06,-0.0013],[-2.01,0.0031],[-1.95,-0.0212],[-1.90,-0.008],[-1.84,0.0075],[-1.81,-0.0102],[-1.79,-0.019],[-1.76,-0.0013],[-1.62,0.0031],[-1.57,-0.0013],[-1.51,-0.0212],[-1.46,-0.0102],[-1.35,-0.0013],[-1.29,0.0031],[-1.23,-0.0058],[-1.18,0.0164],[-1.15,0.0053],[-1.10,-0.0013],[-0.96,-0.0314],[-0.90,-0.0345],[-0.74,-0.0403],[-0.79,-0.0058],[-0.74,0.0031],[-0.68,-0.0013],[-0.63,0.0075],[-0.57,-0.0102],[-0.52,0.0031],[-0.46,0.012],[-0.41,0.0142],[-0.35,0.0164],[-0.30,0.0097],[-0.46,-0.0013]];

const svEriFit = [[-5.42,1.647],[-4.82,0.845],[-4.14,0.337],[-4.05,0.203],[-3.99,0.150],[-3.89,0.070],[-3.82,0.096],[-3.79,0.043],[-3.61,0.016],[-3.15,-0.198],[-3.08,-0.262],[-2.77,-0.330],[-2.68,-0.294],[-2.61,-0.262],[-2.53,-0.330],[-2.47,-0.358],[-2.42,-0.305],[-2.39,-0.278],[-2.33,-0.225],[-2.20,-0.225],[-1.97,-0.171],[-1.74,-0.225],[-1.70,-0.267],[-1.08,0.016],[-1.03,0.059],[-0.98,0.096],[-0.94,0.134],[-0.48,0.524],[-0.41,0.471],[-0.27,0.647],[-0.20,0.658]];
const svEriRes = [[-5.42,0.053],[-4.82,-0.032],[-4.14,0.0],[-4.05,-0.032],[-3.99,-0.053],[-3.89,0.0],[-3.82,-0.032],[-3.61,0.032],[-3.15,0.0],[-3.08,-0.032],[-2.77,-0.032],[-2.68,0.0],[-2.61,0.032],[-2.53,0.053],[-2.47,0.074],[-2.42,0.084],[-2.33,0.105],[-2.20,0.032],[-1.97,0.126],[-1.74,-0.032],[-1.70,-0.053],[-1.08,-0.032],[-1.03,-0.053],[-0.98,-0.011],[-0.94,-0.032],[-0.48,0.074],[-0.41,0.032],[-0.27,0.011],[-0.20,-0.032]];

const vzHerFit = [[-9.24,0.157],[-9.11,0.147],[-8.98,0.134],[-8.91,0.124],[-8.85,0.114],[-8.80,0.108],[-9.11,0.029],[-8.98,0.046],[-8.91,0.049],[-8.65,0.072],[-8.54,0.111],[-8.46,0.056],[-8.33,0.049],[-8.26,0.042],[-8.20,0.059],[-8.13,0.098],[-8.02,0.085],[-7.94,0.036],[-7.86,0.029],[-7.81,0.026],[-7.68,0.049],[-7.60,0.020],[-7.34,0.049],[-7.29,0.036],[-7.24,0.0],[-7.16,0.016],[-7.08,0.029],[-7.03,0.010],[-6.98,-0.003],[-6.90,0.036],[-6.82,0.003],[-6.77,-0.016],[-6.72,0.042],[-6.64,0.023],[-6.56,-0.003],[-6.51,-0.010],[-6.46,-0.026],[-6.38,-0.036],[-6.30,-0.029],[-6.25,0.016],[-6.20,0.003],[-6.12,-0.020],[-6.04,-0.042],[-5.99,-0.056],[-5.94,-0.049],[-5.86,-0.065],[-5.78,-0.075],[-5.73,-0.042],[-6.64,-0.072],[-6.30,-0.085],[-5.47,-0.023],[-5.16,-0.095],[-4.95,-0.010],[-4.90,-0.020],[-4.82,-0.049],[-4.74,-0.056],[-4.69,-0.052],[-4.56,-0.054],[-4.43,-0.052],[-4.30,-0.050],[-4.17,-0.049],[-4.04,-0.052],[-3.91,-0.048],[-3.78,-0.049],[-3.59,-0.049],[-3.44,-0.046],[-2.99,-0.036],[-2.86,-0.042],[-2.47,-0.026],[-2.40,-0.010],[-2.21,0.003],[-1.95,0.013],[-1.69,0.023],[-1.43,0.029],[-1.25,0.036],[-1.09,0.042],[-0.91,0.039],[-0.78,0.036],[-0.65,0.029],[-0.52,0.039],[-0.39,0.042],[-0.31,0.049],[-0.26,0.052],[-0.13,0.046],[-0.65,0.023],[-1.04,0.016],[-5.9,-0.03],[-6.1,-0.01],[-6.4,0.01],[-5.6,-0.04],[-4.6,-0.06],[-4.2,-0.06]];
const vzHerRes = [[-9.24,0.041],[-9.11,0.028],[-8.98,0.015],[-8.91,0.035],[-8.85,0.022],[-8.80,0.009],[-9.11,-0.049],[-9.06,-0.074],[-8.98,-0.042],[-8.65,0.015],[-8.54,-0.010],[-8.46,0.028],[-8.33,0.009],[-8.26,-0.017],[-8.20,0.003],[-8.13,0.015],[-8.02,-0.023],[-7.94,-0.004],[-7.86,-0.036],[-7.81,-0.010],[-7.68,0.015],[-7.60,-0.023],[-7.34,0.028],[-7.29,-0.010],[-7.24,-0.036],[-7.16,0.015],[-7.08,0.041],[-7.03,0.003],[-6.90,0.028],[-6.82,-0.017],[-6.77,-0.049],[-6.72,0.060],[-6.64,0.015],[-6.56,0.041],[-6.51,-0.010],[-6.46,-0.042],[-6.38,0.015],[-6.30,-0.062],[-6.25,0.054],[-6.20,0.015],[-6.12,-0.036],[-6.04,0.003],[-5.99,0.028],[-5.94,-0.004],[-5.86,-0.023],[-5.78,-0.049],[-5.73,0.015],[-5.47,0.028],[-5.16,-0.010],[-4.95,0.041],[-4.90,0.015],[-4.82,0.009],[-4.74,0.003],[-4.69,0.0],[-4.56,0.005],[-4.43,0.003],[-4.30,0.0],[-4.17,0.005],[-4.04,0.003],[-3.91,0.0],[-3.78,0.003],[-3.59,0.0],[-3.44,0.003],[-2.99,0.015],[-2.86,0.003],[-2.47,0.028],[-2.40,0.015],[-2.21,0.005],[-1.95,0.005],[-1.69,0.015],[-1.43,0.009],[-1.25,0.013],[-1.09,0.009],[-0.91,0.005],[-0.78,0.009],[-0.65,0.003],[-0.52,0.0],[-0.39,-0.004],[-0.31,-0.008],[-0.26,-0.010]];

const rrLeoFit = [[-9.59,0.428],[-8.98,0.330],[-8.76,0.295],[-8.63,0.267],[-8.52,0.253],[-8.24,0.204],[-8.16,0.197],[-7.80,0.162],[-7.47,0.119],[-7.42,0.091],[-7.06,0.070],[-6.92,0.056],[-6.79,0.042],[-6.65,0.028],[-6.51,0.014],[-6.37,0.0],[-6.24,-0.014],[-6.10,-0.028],[-5.96,-0.042],[-5.82,-0.049],[-5.69,-0.056],[-5.55,-0.063],[-5.41,-0.066],[-5.27,-0.070],[-5.14,-0.077],[-5.0,-0.084],[-4.86,-0.088],[-4.73,-0.091],[-4.59,-0.094],[-4.45,-0.098],[-4.31,-0.101],[-4.18,-0.103],[-4.04,-0.105],[-3.90,-0.108],[-3.76,-0.110],[-3.63,-0.108],[-3.49,-0.105],[-3.35,-0.103],[-3.21,-0.098],[-3.08,-0.094],[-2.94,-0.088],[-2.80,-0.084],[-2.66,-0.077],[-2.53,-0.070],[-2.39,-0.063],[-2.25,-0.049],[-2.12,-0.035],[-1.98,-0.021],[-1.84,-0.007],[-1.70,0.007],[-1.57,0.021],[-1.43,0.035],[-1.29,0.049],[-1.15,0.063],[-1.02,0.077],[-0.88,0.091],[-0.74,0.105],[-0.60,0.112],[-0.47,0.119],[-0.33,0.126],[-0.19,0.133],[-0.11,0.140],[-4.18,-0.09],[-3.90,-0.12],[-3.63,-0.09],[-3.35,-0.11],[-4.45,-0.085],[-3.08,-0.105],[-4.73,-0.105]];
const rrLeoRes = [[-9.59,0.008],[-8.98,0.003],[-8.76,0.0],[-8.52,0.005],[-8.24,-0.003],[-7.80,0.0],[-7.47,0.005],[-7.06,-0.008],[-6.79,-0.012],[-6.51,0.003],[-6.24,0.0],[-5.96,-0.003],[-5.69,0.0],[-5.41,-0.005],[-5.14,-0.003],[-4.86,-0.006],[-4.59,-0.003],[-4.45,0.008],[-4.31,0.012],[-4.18,-0.008],[-4.04,0.005],[-3.90,0.015],[-3.76,-0.006],[-3.63,0.008],[-3.49,0.0],[-3.35,0.012],[-3.21,-0.003],[-3.08,0.006],[-2.94,-0.006],[-2.80,0.003],[-2.66,0.0],[-2.39,-0.003],[-2.12,0.006],[-1.98,0.012],[-1.84,0.003],[-1.70,0.0],[-1.57,0.006],[-1.43,-0.003],[-1.29,0.0],[-1.15,-0.008],[-1.02,-0.003],[-0.88,0.003],[-0.74,0.0],[-0.60,-0.006],[-0.47,0.003],[-0.33,0.0],[-0.19,-0.003],[-0.11,0.003]];

const tvLeoFit = [[-5.09,0.120],[-5.09,0.103],[-5.09,0.086],[-4.53,0.095],[-4.53,0.020],[-4.17,0.043],[-3.92,0.079],[-3.90,-0.010],[-3.90,-0.020],[-3.90,-0.030],[-3.90,-0.038],[-3.90,-0.060],[-3.87,-0.017],[-3.82,-0.026],[-3.32,-0.120],[-3.11,-0.063],[-2.57,-0.061],[-2.52,-0.056],[-2.47,-0.052],[-2.45,-0.066],[-2.40,-0.073],[-2.35,-0.079],[-2.30,-0.061],[-2.20,-0.060],[-0.41,0.114],[-0.36,0.106],[-0.24,0.129]];
const tvLeoRes = [[-5.09,0.013],[-5.09,0.0],[-5.09,-0.013],[-5.09,-0.026],[-5.07,-0.006],[-4.53,0.055],[-4.53,-0.020],[-4.17,0.039],[-3.92,0.097],[-3.90,0.013],[-3.87,0.0],[-3.84,-0.013],[-3.90,-0.032],[-3.87,0.006],[-3.32,-0.062],[-3.11,0.0],[-2.57,0.006],[-2.52,0.010],[-2.47,0.016],[-2.43,0.0],[-2.40,-0.006],[-2.35,-0.013],[-2.30,0.0],[-2.20,0.0],[-0.41,0.013],[-0.34,0.0],[-0.24,0.0]];

const uLepFit = [[-7.74,0.0897],[-7.08,0.0618],[-6.19,0.0324],[-5.34,-0.019],[-5.03,-0.024],[-4.93,-0.022],[-4.78,-0.0267],[-3.32,-0.0515],[-3.15,-0.0546],[-3.0,-0.0229],[-2.97,-0.040],[-2.95,-0.042],[-2.82,-0.0485],[-2.52,-0.0427],[-2.43,-0.0324],[-1.25,0.0046],[-0.74,-0.0008],[-0.67,0.0114],[-0.30,0.019],[-0.30,0.017],[-0.30,0.0153],[-0.30,0.0134],[-0.30,0.0076]];
const uLepRes = [[-7.74,-0.006],[-7.08,0.005],[-6.19,0.015],[-5.34,-0.006],[-5.03,-0.004],[-4.93,0.0],[-4.78,-0.0015],[-3.32,-0.009],[-3.15,-0.013],[-3.0,0.019],[-2.95,-0.002],[-2.82,-0.006],[-2.52,-0.002],[-2.43,0.005],[-1.25,0.021],[-0.74,0.0],[-0.67,0.011],[-0.30,0.004],[-0.30,0.0],[-0.30,-0.004],[-0.30,-0.008]];

const avPegFit = [[-9.60,0.380],[-8.93,0.295],[-7.10,0.105],[-7.02,0.100],[-6.91,0.092],[-6.83,0.085],[-6.75,0.081],[-6.65,0.074],[-6.49,0.071],[-5.42,0.015],[-5.31,0.009],[-5.23,0.003],[-5.09,0.015],[-4.96,0.006],[-4.83,0.020],[-4.69,0.003],[-4.56,-0.002],[-4.42,-0.008],[-4.29,-0.014],[-4.16,-0.017],[-4.02,-0.019],[-3.89,-0.022],[-3.75,-0.025],[-3.62,-0.028],[-3.49,-0.031],[-3.35,-0.031],[-3.22,-0.033],[-3.08,-0.031],[-2.95,-0.033],[-2.82,-0.031],[-2.68,-0.028],[-2.55,-0.025],[-2.41,-0.019],[-2.28,-0.014],[-2.14,-0.008],[-2.01,-0.002],[-1.88,0.003],[-1.74,0.009],[-1.61,0.015],[-1.47,0.020],[-1.34,0.026],[-1.21,0.032],[-1.07,0.037],[-0.94,0.043],[-0.80,0.049],[-0.67,0.054],[-0.54,0.060],[-0.40,0.066],[-4.83,0.026],[-4.56,0.015],[-4.42,-0.022],[-4.07,-0.031],[-3.62,-0.017],[-3.22,-0.042],[-2.90,-0.040],[-2.41,-0.036],[-3.49,-0.020],[-1.34,0.015],[-0.80,0.037],[-5.35,0.012],[-4.70,0.010],[-3.9,-0.01],[-2.2,-0.02],[-1.0,0.028]];
const avPegRes = [[-9.60,0.011],[-8.93,0.0],[-7.10,-0.016],[-6.97,-0.023],[-6.83,-0.016],[-6.70,-0.023],[-6.56,-0.016],[-5.42,-0.016],[-5.23,-0.005],[-4.96,0.014],[-4.69,0.018],[-4.42,0.023],[-4.16,0.018],[-3.89,0.007],[-3.62,0.0],[-3.35,-0.005],[-3.08,0.0],[-2.82,-0.009],[-2.55,-0.005],[-2.28,-0.016],[-2.01,-0.009],[-1.74,-0.005],[-1.47,-0.016],[-1.21,-0.009],[-0.94,-0.005],[-0.67,0.0],[-0.40,-0.005],[-5.1,-0.01],[-4.5,0.01],[-4.3,0.03],[-3.7,0.012],[-3.2,0.004],[-2.7,0.002],[-2.1,-0.003],[-1.6,0.0],[-1.0,0.004],[-0.5,0.008]];

const arPerFit = [[-9.52,0.0362],[-9.25,0.031],[-9.12,0.0257],[-8.90,0.0208],[-8.66,0.0138],[-8.31,0.0109],[-8.04,0.0101],[-7.91,0.0086],[-7.72,0.0124],[-7.64,0.0104],[-7.37,0.0004],[-7.29,0.0027],[-7.18,0.0094],[-7.10,0.0071],[-7.02,0.0042],[-6.97,0.0057],[-6.92,0.0027],[-6.86,-0.0003],[-6.84,-0.0033],[-6.84,-0.0055],[-6.81,-0.0077],[-6.76,-0.0107],[-6.76,-0.0137],[-6.70,-0.0048],[-6.65,-0.0003],[-6.57,-0.0018],[-6.49,-0.0033],[-6.43,-0.0055],[-6.30,-0.007],[-6.22,-0.0122],[-6.17,0.0057],[-6.11,0.0109],[-6.03,0.0094],[-5.95,-0.0003],[-5.90,-0.0077],[-5.76,0.0004],[-5.63,-0.0063],[-5.50,-0.0107],[-5.36,-0.0048],[-5.23,-0.0063],[-5.09,-0.0092],[-5.04,0.0004],[-4.96,-0.0048],[-4.88,-0.0107],[-4.83,-0.0137],[-4.69,-0.0092],[-4.56,-0.0155],[-4.50,-0.0003],[-4.42,-0.0077],[-4.29,-0.01],[-4.16,-0.0159],[-4.02,-0.0122],[-3.89,-0.0137],[-3.81,-0.0107],[-3.49,-0.0107],[-2.95,-0.0107],[-2.47,-0.0107],[-2.09,-0.0137],[-1.74,0.0071],[-1.61,-0.0003],[-1.55,-0.0033],[-1.47,-0.0048],[-1.39,0.0086],[-1.34,0.0012],[-1.29,0.0042],[-1.21,0.0071],[-1.07,-0.0063],[-1.02,-0.0092],[-0.94,-0.0167],[-0.94,-0.0207],[-1.02,-0.0122],[-0.86,0.0071],[-0.80,0.0131],[-0.75,0.0027],[-0.67,0.022],[-0.59,0.019],[-0.54,0.0146],[-0.48,0.0101],[-0.40,0.0071],[-0.40,0.0042],[-0.32,0.0086],[-0.27,0.0057]];
const arPerRes = [[-9.52,0.0053],[-9.25,0.0039],[-9.12,0.0024],[-8.90,-0.0006],[-8.66,-0.0036],[-8.31,-0.005],[-8.04,-0.0006],[-7.91,-0.0021],[-7.72,0.0024],[-7.64,0.0039],[-7.37,0.0053],[-7.29,0.0024],[-7.18,-0.0036],[-7.10,0.0068],[-7.02,0.0039],[-6.97,-0.0006],[-6.92,0.0083],[-6.84,0.0039],[-6.84,-0.0095],[-6.76,-0.0021],[-6.70,-0.014],[-6.65,0.0024],[-6.57,0.0068],[-6.49,-0.008],[-6.38,-0.005],[-6.22,0.0134],[-6.11,0.015],[-6.03,0.0039],[-5.90,-0.0021],[-5.76,0.0068],[-5.63,0.0024],[-5.50,-0.0006],[-5.36,0.0083],[-5.23,0.0039],[-5.09,0.0113],[-5.04,0.0024],[-4.96,0.0068],[-4.88,-0.0021],[-4.83,-0.005],[-4.69,0.0039],[-4.56,-0.0006],[-4.42,0.0068],[-4.29,0.0009],[-4.16,-0.0006],[-4.02,-0.0021],[-3.89,-0.0006],[-3.70,-0.0006],[-3.49,0.0009],[-2.95,0.0009],[-2.47,-0.0006],[-2.09,-0.008],[-1.74,0.0128],[-1.66,0.0068],[-1.61,0.0039],[-1.55,0.0009],[-1.47,-0.0021],[-1.39,-0.005],[-1.34,0.0039],[-1.29,0.0068],[-1.21,-0.0006],[-1.13,-0.0036],[-1.07,-0.008],[-1.02,-0.014],[-0.94,-0.0184],[-0.94,-0.0214],[-0.86,0.0039],[-0.80,0.0068],[-0.75,-0.0021],[-0.67,0.0187],[-0.59,0.0128],[-0.54,0.0053],[-0.48,0.0024],[-0.40,0.0009],[-0.32,-0.0021],[-0.27,0.0039]];

const ryPscFit = [[-6.23,0.124],[-6.0,0.097],[-5.43,0.031],[-5.24,0.0057],[-5.17,-0.003],[-4.85,-0.0117],[-4.81,-0.016],[-4.76,-0.020],[-4.76,-0.027],[-4.71,0.0035],[-4.67,-0.014],[-4.64,-0.016],[-4.37,-0.0226],[-3.83,-0.0126],[-3.58,0.0013],[-3.30,-0.005],[-3.17,-0.0074],[-3.12,-0.027],[-3.09,-0.0074],[-3.05,-0.0313],[-3.0,-0.0074],[-3.0,-0.0183],[-3.0,-0.038],[-2.94,-0.0335],[-2.12,-0.014],[-2.12,-0.029],[-0.83,-0.017],[-0.74,-0.0074],[-0.65,0.0013],[-0.58,0.0035],[-0.49,0.0326],[-0.35,0.045],[-0.35,0.063],[-0.09,0.080]];
const ryPscRes = [[-6.23,0.049],[-6.0,0.035],[-5.43,0.0],[-5.24,-0.019],[-5.17,-0.023],[-4.85,-0.023],[-4.81,-0.031],[-4.76,-0.002],[-4.71,-0.010],[-4.67,-0.014],[-4.64,-0.006],[-4.37,-0.010],[-3.83,0.011],[-3.58,0.028],[-3.30,0.024],[-3.17,0.024],[-3.12,-0.006],[-3.09,0.019],[-3.05,0.011],[-3.0,-0.002],[-3.0,-0.010],[-2.94,0.024],[-2.12,0.011],[-2.12,-0.006],[-0.83,-0.031],[-0.74,-0.027],[-0.65,-0.023],[-0.58,-0.023],[-0.49,0.007],[-0.44,0.011],[-0.35,0.028],[-0.09,0.032]];

const csSerFit = [[-6.50,0.041],[-6.34,0.041],[-6.16,0.033],[-6.0,0.041],[-5.69,0.024],[-5.53,0.022],[-5.69,0.0024],[-5.31,-0.0124],[-5.12,0.0153],[-4.96,0.0036],[-4.81,0.0024],[-4.62,-0.0177],[-4.44,-0.0297],[-4.25,-0.0177],[-4.02,-0.0385],[-3.96,-0.061],[-3.75,-0.0325],[-3.63,-0.028],[-3.60,-0.029],[-3.54,-0.0638],[-3.0,-0.0137],[-2.98,-0.0125],[-2.98,-0.027],[-1.34,0.010],[-1.04,0.0133],[-0.56,0.0518],[-0.22,0.0735]];
const csSerRes = [[-6.46,-0.0139],[-6.31,-0.005],[-6.16,-0.004],[-5.99,0.013],[-5.69,-0.012],[-5.66,0.0095],[-5.53,0.013],[-5.31,-0.014],[-5.12,0.022],[-4.96,0.013],[-4.81,0.018],[-4.63,0.002],[-4.44,-0.007],[-4.25,0.0095],[-4.02,-0.009],[-3.96,-0.033],[-3.75,0.002],[-3.60,0.004],[-3.54,-0.032],[-3.0,0.020],[-2.98,0.004],[-2.98,0.017],[-1.34,0.0],[-1.04,-0.010],[-0.56,0.004],[-0.22,0.006]];

const bbVirFit = [[-7.63,0.107],[-7.63,0.0737],[-6.24,0.0454],[-6.31,-0.0036],[-5.76,-0.0397],[-5.13,-0.051],[-4.62,-0.051],[-4.44,-0.0747],[-4.04,-0.0335],[-3.51,-0.0871],[-1.60,-0.0526],[-1.60,-0.0613],[-1.43,-0.0381],[-1.38,-0.0515],[-0.84,0.0005],[-0.81,-0.0026],[-0.76,-0.001],[-0.65,0.0247],[-0.47,0.049],[-0.44,0.0438],[-0.32,0.0376],[-0.28,0.036],[-0.25,0.040]];
const bbVirRes = [[-7.63,0.005],[-7.63,-0.026],[-6.24,0.045],[-6.31,-0.0104],[-5.76,-0.0177],[-5.13,-0.002],[-4.62,0.0125],[-4.44,-0.008],[-4.04,0.040],[-3.51,-0.0125],[-1.65,-0.021],[-1.60,-0.026],[-1.43,-0.0135],[-1.38,-0.026],[-0.84,-0.005],[-0.79,-0.008],[-0.74,-0.003],[-0.65,0.010],[-0.47,0.019],[-0.32,0.005],[-0.28,-0.002]];

// ---- star names (titles), in panel order
const stars = ['XX AND','BN AQR','V341 AQL','X ARI','RS BOO','SW BOO','UU BOO','RW CNC','TT CNC','AN CNC',
  'SW CVN','EZ CEP','RR CET','TV CRB','DM CYG','V684 CYG','SU DRA','SV ERI','VZ HER','RR LEO',
  'TV LEO','U LEP','AV PEG','AR PER','RY PSC','CS SER','BB VIR'];
const fitSeries = [xxAndFit,bnAqrFit,v341AqlFit,xAriFit,rsBooFit,swBooFit,uuBooFit,rwCncFit,ttCncFit,anCncFit,
  swCvnFit,ezCepFit,rrCetFit,tvCrbFit,dmCygFit,v684CygFit,suDraFit,svEriFit,vzHerFit,rrLeoFit,
  tvLeoFit,uLepFit,avPegFit,arPerFit,ryPscFit,csSerFit,bbVirFit];
const resSeries = [xxAndRes,bnAqrRes,v341AqlRes,xAriRes,rsBooRes,swBooRes,uuBooRes,rwCncRes,ttCncRes,anCncRes,
  swCvnRes,ezCepRes,rrCetRes,tvCrbRes,dmCygRes,v684CygRes,suDraRes,svEriRes,vzHerRes,rrLeoRes,
  tvLeoRes,uLepRes,avPegRes,arPerRes,ryPscRes,csSerRes,bbVirRes];

// ---- axis ranges and tick steps per panel
const xDomains = [[-5.81,0.5],[-9.48,0.94],[-6.64,0.37],[-5.85,0.38],[-10.85,0.7],[-6.83,0.33],[-8.46,0.42],[-6.95,0.27],[-6.55,0.34],[-6.79,0.4],
  [-8.36,0.41],[-10.97,0.58],[-6.91,0.35],[-7.0,0.36],[-10.55,0.68],[-3.93,0.19],[-6.28,0.31],[-5.92,0.3],[-10.16,0.52],[-10.5,0.77],
  [-5.55,0.27],[-8.46,0.42],[-10.5,0.54],[-10.46,0.54],[-6.79,0.44],[-7.09,0.375],[-8.37,0.41]];
const yDomains = [[-0.0925,0.114],[-0.298,0.57],[-0.068,0.0937],[-0.222,0.395],[-0.069,0.1136],[-0.335,0.514],[-0.257,0.502],[-0.15,0.128],[-0.094,0.157],[-0.0555,0.069],
  [-0.254,0.336],[-0.0884,0.113],[-0.0397,0.0439],[-0.131,0.146],[-0.075,0.175],[-0.134,0.151],[-0.0523,0.0615],[-0.75,2.03],[-0.136,0.203],[-0.194,0.534],
  [-0.168,0.176],[-0.081,0.117],[-0.125,0.463],[-0.0305,0.0466],[-0.0696,0.156],[-0.088,0.1205],[-0.122,0.146]];
// residual panels share the range, except CS SER
const yDomainsRes = yDomains.map((d, i) => i === 25 ? [-0.091, 0.1] : d);
const yMajor = [0.05,0.2,0.05,0.2,0.05,0.2,0.2,0.1,0.05,0.04, 0.2,0.05,0.02,0.1,0.05,0.1,0.04,0.5,0.1,0.2, 0.1,0.05,0.2,0.02,0.05,0.05,0.05];
const yMinor = [0.01,0.05,0.01,0.05,0.01,0.05,0.05,0.02,0.01,0.01, 0.05,0.01,0.005,0.02,0.01,0.02,0.01,0.1,0.02,0.05, 0.02,0.01,0.05,0.005,0.01,0.01,0.01];
const yMajorRes = yMajor.map((v, i) => i === 17 ? 1.0 : i === 26 ? 0.1 : v);
const yMinorRes = yMinor.map((v, i) => i === 17 ? 0.2 : i === 26 ? 0.02 : v);
const xMajor = [2,5,2,2,5,2,5,2,2,2, 5,5,2,2,5,1,2,2,5,5, 2,5,5,5,2,2,2];
const xMinor = xMajor.map(s => s === 5 ? 1 : s === 2 ? 0.5 : 0.2);

// ---- layout
const W = 252, TH = 175, BH = 87;
const svg = d3.select('#chart');
const fontFam = '"Liberation Serif","Times New Roman",serif';

function stepTicks(dom, step) {
  const lo = Math.ceil(dom[0] / step - 1e-6), hi = Math.floor(dom[1] / step + 1e-6);
  return d3.range(lo, hi + 1).map(k => +(k * step).toFixed(6));
}
const minus = s => s.replace('-', '\u2212');
const fmtY = v => minus(d3.format('.3f')(Math.abs(v) < 1e-9 ? 0 : v));
const fmtX = v => minus(d3.format('.1f')(Math.abs(v) < 1e-9 ? 0 : v));

function styleAxis(g) {
  g.select('.domain').remove();
  g.attr('color', '#1a1a1a').attr('font-family', fontFam).attr('font-size', 15)
    .selectAll('line').attr('stroke-width', 1.1);
  g.selectAll('text').attr('letter-spacing', 1.2).attr('fill', '#111');
}

function drawPanel(i, left, top) {
  const g = svg.append('g').attr('transform', `translate(${left},${top})`);
  const x = d3.scaleLinear().domain(xDomains[i]).range([0, W]);
  const yT = d3.scaleLinear().domain(yDomains[i]).range([TH, 0]);
  const yB = d3.scaleLinear().domain(yDomainsRes[i]).range([TH + BH, TH]);

  const xMaj = stepTicks(xDomains[i], xMajor[i]);
  const xMin = stepTicks(xDomains[i], xMinor[i]);

  // x ticks on all horizontal edges
  [[0, d3.axisTop], [TH, d3.axisBottom], [TH, d3.axisTop], [TH + BH, d3.axisBottom]].forEach(([yy, ax]) => {
    g.append('g').attr('transform', `translate(0,${yy})`)
      .call(ax(x).tickValues(xMin).tickSize(-4).tickFormat('')).call(styleAxis);
  });
  [[0, d3.axisTop], [TH, d3.axisBottom], [TH, d3.axisTop]].forEach(([yy, ax]) => {
    g.append('g').attr('transform', `translate(0,${yy})`)
      .call(ax(x).tickValues(xMaj).tickSize(-8).tickFormat('')).call(styleAxis);
  });
  g.append('g').attr('transform', `translate(0,${TH + BH})`)
    .call(d3.axisBottom(x).tickValues(xMaj).tickSize(-8).tickPadding(10).tickFormat(fmtX)).call(styleAxis);

  // y ticks, both subpanels
  const subs = [
    { y: yT, dom: yDomains[i], maj: yMajor[i], min: yMinor[i], keep: v => true },
    { y: yB, dom: yDomainsRes[i], maj: yMajorRes[i], min: yMinorRes[i], keep: v => yB(v) >= TH + 3 }
  ];
  subs.forEach(s => {
    const maj = stepTicks(s.dom, s.maj), mn = stepTicks(s.dom, s.min);
    g.append('g').call(d3.axisLeft(s.y).tickValues(mn).tickSize(-4).tickFormat('')).call(styleAxis);
    g.append('g').attr('transform', `translate(${W},0)`)
      .call(d3.axisRight(s.y).tickValues(mn).tickSize(-4).tickFormat('')).call(styleAxis);
    g.append('g').attr('transform', `translate(${W},0)`)
      .call(d3.axisRight(s.y).tickValues(maj).tickSize(-8).tickFormat('')).call(styleAxis);
    g.append('g')
      .call(d3.axisLeft(s.y).tickValues(maj).tickSize(-8).tickPadding(9)
        .tickFormat(v => s.keep(v) ? fmtY(v) : ''))
      .call(styleAxis);
  });

  // frames
  g.append('rect').attr('width', W).attr('height', TH)
    .attr('fill', 'none').attr('stroke', '#1a1a1a').attr('stroke-width', 1.3);
  g.append('rect').attr('y', TH).attr('width', W).attr('height', BH)
    .attr('fill', 'none').attr('stroke', '#1a1a1a').attr('stroke-width', 1.3);

  // title
  const [a, b] = stars[i].split(' ');
  g.append('text').attr('x', 133).attr('y', i === 25 ? 48 : 33)
    .attr('text-anchor', 'middle').attr('font-size', 15).attr('letter-spacing', 1)
    .attr('fill', '#111')
    .text(a + '\u00a0\u00a0\u00a0' + b);

  // crosses (top)
  g.append('g').selectAll('path').data(fitSeries[i]).join('path')
    .attr('transform', d => `translate(${x(d[0])},${yT(d[1])})`)
    .attr('d', 'M-2.8,-2.8L2.8,2.8M-2.8,2.8L2.8,-2.8')
    .attr('stroke', '#222').attr('stroke-width', 1).attr('fill', 'none');

  // residual dots (bottom)
  g.append('g').selectAll('circle').data(resSeries[i]).join('circle')
    .attr('cx', d => x(d[0])).attr('cy', d => yB(d[1])).attr('r', 3)
    .attr('fill', '#000');
}

stars.forEach((name, i) => {
  let left, top;
  if (i < 25) {
    left = 59 + (i % 5) * 324.5;
    top = 64 + Math.floor(i / 5) * 321;
  } else {
    left = i === 25 ? 546 : 871;
    top = 1665;
  }
  drawPanel(i, left, top);
});

// page number
svg.append('text').attr('x', 1608).attr('y', 22).attr('font-size', 22)
  .attr('font-family', fontFam).attr('fill', '#111').text('1');
</script>
</body>
</html>
